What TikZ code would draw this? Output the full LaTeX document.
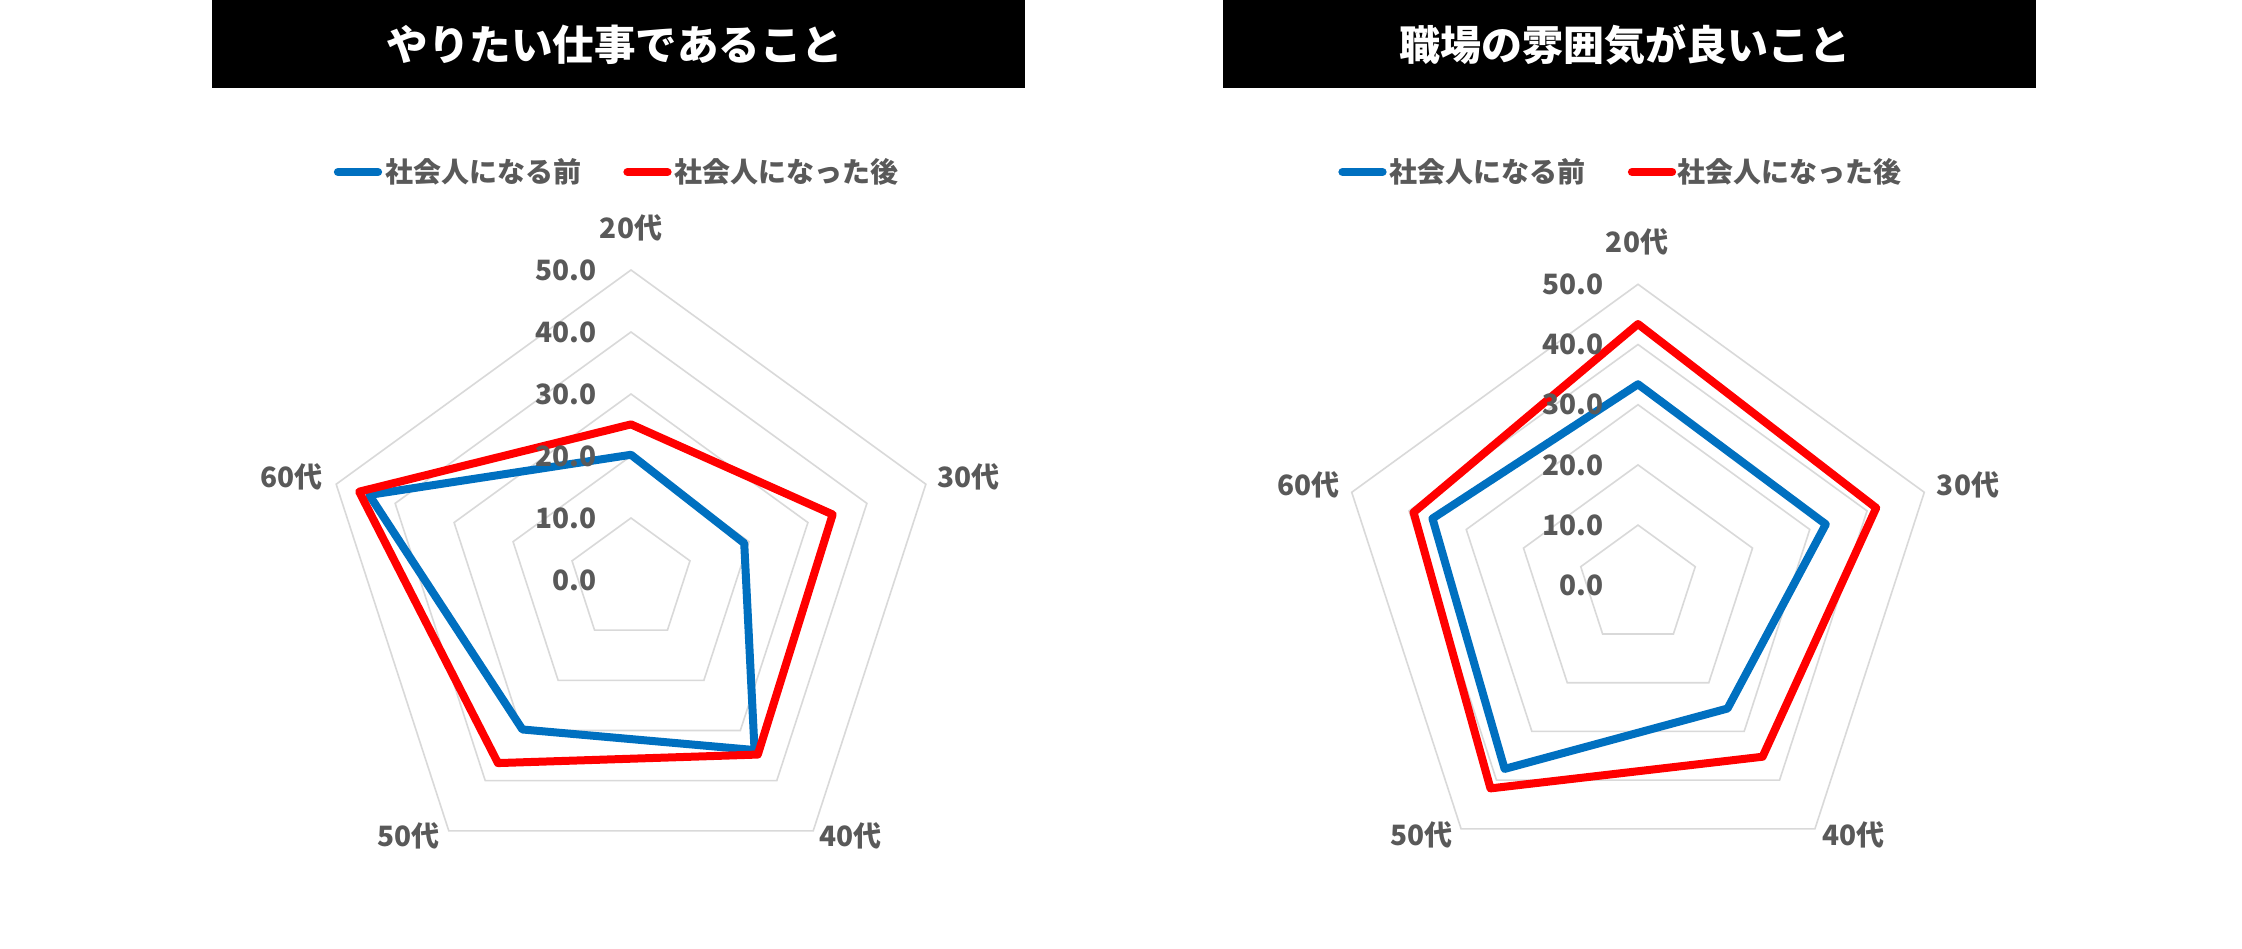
\documentclass[tikz,border=0pt]{standalone}
\usepackage{fontspec}
\setmainfont{Noto Sans CJK JP}
\definecolor{gridc}{HTML}{D9D9D9}
\definecolor{txtc}{HTML}{595959}
\definecolor{serA}{HTML}{0070C0}
\definecolor{serB}{HTML}{FF0000}
\tikzset{
  titlebox/.style={fill=black, minimum width=813, minimum height=88.3, inner sep=0},
  titletxt/.style={inner sep=0, text=white, font=\bfseries\fontsize{41.5}{48}\selectfont},
  legtxt/.style={anchor=west, inner sep=0, text=txtc, font=\bfseries\fontsize{28}{32}\selectfont},
  cattxt/.style={inner sep=0, text=txtc, font=\bfseries\fontsize{28}{32}\selectfont},
  valtxt/.style={anchor=east, inner sep=0, text=txtc, font=\bfseries\fontsize{28}{32}\selectfont},
  legline/.style={line width=8.3, line cap=round},
  ring/.style={draw=gridc, line width=1.6},
  series/.style={line width=8, line join=round},
}
\begin{document}
\begin{tikzpicture}[x=1pt,y=1pt]
\fill[white] (0,0) rectangle (2242,-949);
\useasboundingbox (0,0) rectangle (2242,-949);

% ---------------- Chart 1 ----------------
\node[titlebox] (t1) at (618.3,-44.2) {};
\node[titletxt] (t1t) at (615,-44.5) {やりたい仕事であること};
\coordinate (l1a) at (338,-172); \coordinate (l1b) at (378,-172);
\draw[legline, serA] (l1a) -- (l1b);
\node[legtxt] (l1t) at (385,-172) {社会人になる前};
\coordinate (l1c) at (627.5,-172); \coordinate (l1d) at (667.5,-172);
\draw[legline, serB] (l1c) -- (l1d);
\node[legtxt] (l1u) at (674,-172) {社会人になった後};

\begin{scope}[shift={(631,-580)}]
  \foreach \k in {1,...,5}{
    \draw[ring] (90:{62*\k}) -- (18:{62*\k}) -- (-54:{62*\k}) -- (-126:{62*\k}) -- (162:{62*\k}) -- cycle;
  }
  \draw[series, serA] (90:{20.2*6.2}) -- (18:{19.2*6.2}) -- (-54:{33.9*6.2}) -- (-126:{29.8*6.2}) -- (162:{44.4*6.2}) -- cycle;
  \draw[series, serB] (90:{25.1*6.2}) -- (18:{34.2*6.2}) -- (-54:{34.8*6.2}) -- (-126:{36.5*6.2}) -- (162:{46.1*6.2}) -- cycle;
  \node[valtxt] (v1a) at (-34,0) {0.0};
  \node[valtxt] (v1b) at (-34,62) {10.0};
  \node[valtxt] (v1c) at (-34,124) {20.0};
  \node[valtxt] (v1d) at (-34,186) {30.0};
  \node[valtxt] (v1e) at (-34,248) {40.0};
  \node[valtxt] (v1f) at (-34,310) {50.0};
  \node[cattxt] (c1a) at (0,352) {20代};
  \node[cattxt] (c1b) at (337.5,103.2) {30代};
  \node[cattxt] (c1c) at (219.6,-255.8) {40代};
  \node[cattxt] (c1d) at (-222.1,-255.8) {50代};
  \node[cattxt] (c1e) at (-339.4,103.2) {60代};
\end{scope}

% ---------------- Chart 2 ----------------
\node[titlebox] (t2) at (1629.4,-44.2) {};
\node[titletxt, font=\bfseries\fontsize{41}{48}\selectfont] (t2t) at (1625,-44.5) {職場の雰囲気が良いこと};
\coordinate (l2a) at (1342.5,-172); \coordinate (l2b) at (1382.5,-172);
\draw[legline, serA] (l2a) -- (l2b);
\node[legtxt] (l2t) at (1389.4,-172) {社会人になる前};
\coordinate (l2c) at (1632,-172); \coordinate (l2d) at (1672,-172);
\draw[legline, serB] (l2c) -- (l2d);
\node[legtxt] (l2u) at (1677.6,-172) {社会人になった後};

\begin{scope}[shift={(1638,-585.3)}]
  \foreach \k in {1,...,5}{
    \draw[ring] (90:{60.2*\k}) -- (18:{60.2*\k}) -- (-54:{60.2*\k}) -- (-126:{60.2*\k}) -- (162:{60.2*\k}) -- cycle;
  }
  \draw[series, serA] (90:{33.4*6.02}) -- (18:{32.8*6.02}) -- (-54:{25.3*6.02}) -- (-126:{37.7*6.02}) -- (162:{35.9*6.02}) -- cycle;
  \draw[series, serB] (90:{43.4*6.02}) -- (18:{41.6*6.02}) -- (-54:{35.2*6.02}) -- (-126:{41.7*6.02}) -- (162:{39.2*6.02}) -- cycle;
  \node[valtxt] (v2a) at (-34.2,0) {0.0};
  \node[valtxt] (v2b) at (-34.2,60.2) {10.0};
  \node[valtxt] (v2c) at (-34.2,120.4) {20.0};
  \node[valtxt] (v2d) at (-34.2,180.6) {30.0};
  \node[valtxt] (v2e) at (-34.2,240.8) {40.0};
  \node[valtxt] (v2f) at (-34.2,301) {50.0};
  \node[cattxt] (c2a) at (-1,343.9) {20代};
  \node[cattxt] (c2b) at (330,100.7) {30代};
  \node[cattxt] (c2c) at (215.7,-249.3) {40代};
  \node[cattxt] (c2d) at (-216.8,-249.3) {50代};
  \node[cattxt] (c2e) at (-329.7,100.7) {60代};
\end{scope}
\end{tikzpicture}
\end{document}
